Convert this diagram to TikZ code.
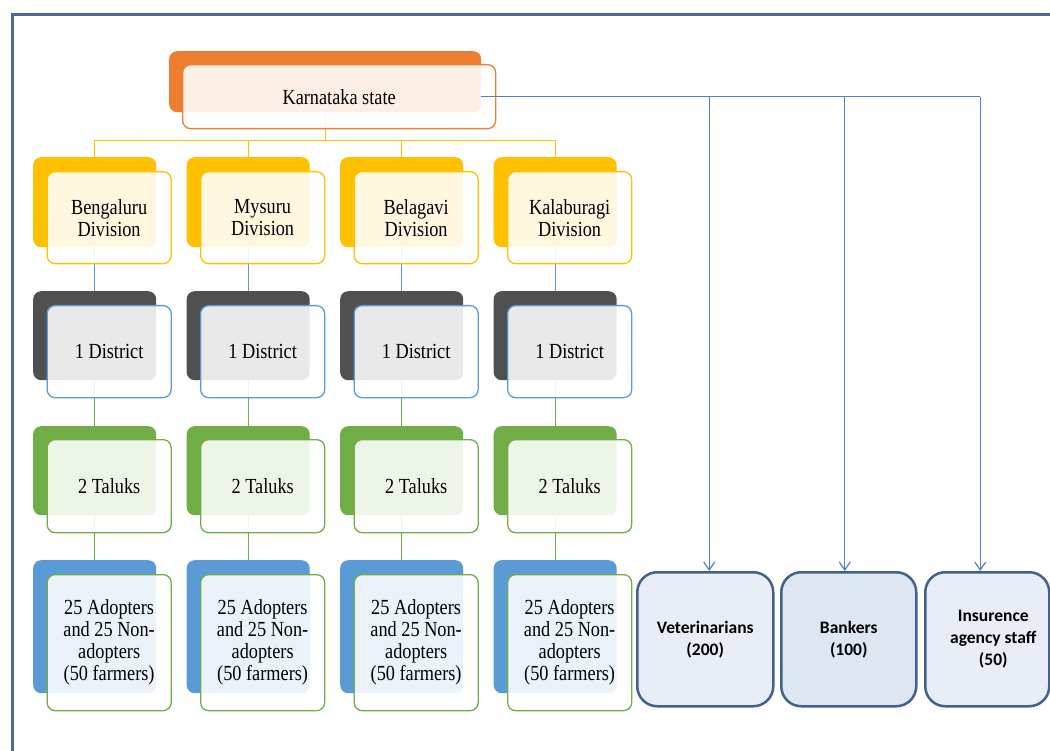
\documentclass[tikz,border=0pt]{standalone}
\usepackage{fontspec}
\setmainfont{Liberation Serif}[FakeStretch=0.85]
\newfontfamily\calib{Carlito}
\usetikzlibrary{arrows.meta,calc}
\definecolor{framec}{HTML}{4A6A8F}
\definecolor{orangec}{HTML}{ED7D31}
\definecolor{yellowc}{HTML}{FFC000}
\definecolor{grayc}{HTML}{505050}
\definecolor{greenc}{HTML}{70AD47}
\definecolor{bluec}{HTML}{5B9BD5}
\definecolor{linkc}{HTML}{4F81BD}
\definecolor{rbord}{HTML}{41628C}
\definecolor{rfill}{HTML}{E9EEF6}
\definecolor{rfillb}{HTML}{DEE6F1}
\tikzset{
  backbox/.style={rectangle, rounded corners=8pt, inner sep=0pt, anchor=north west},
  frontbox/.style={rectangle, rounded corners=8pt, fill=white, fill opacity=0.88, text opacity=1,
    line width=1.3pt, align=center, inner sep=0pt, anchor=north west,
    font=\fontsize{21.5}{22}\selectfont},
  rbox/.style={rectangle, rounded corners=20pt, draw=rbord, line width=2.5pt, fill=rfill,
    align=center, inner sep=0pt, anchor=north west, minimum height=134pt,
    font=\calib\bfseries\fontsize{17.5}{22}\selectfont},
  conn/.style={line width=1.2pt},
  blink/.style={draw=linkc, line width=1.2pt},
  barrow/.style={blink, -{Straight Barb[length=8pt,width=11pt,line width=1.2pt]}}
}
\begin{document}
\begin{tikzpicture}[x=1pt,y=-1pt]
\useasboundingbox (0,0) rectangle (1050,751);
\clip (0,0) rectangle (1050,751);
\fill[white] (0,0) rectangle (1050,751);
\draw[framec, line width=3pt] (12.5,14.5) rectangle (1080,780);

% back boxes
\node[backbox, fill=orangec, minimum width=312pt, minimum height=61pt] (kb) at (169,51) {};
\foreach \i in {0,1,2,3}{
  \pgfmathsetmacro\xx{33+153.5*\i}
  \node[backbox, fill=yellowc, minimum width=123pt, minimum height=90pt] (dvb\i) at (\xx,157) {};
  \node[backbox, fill=grayc, minimum width=123pt, minimum height=89pt] (dsb\i) at (\xx,291) {};
  \node[backbox, fill=greenc, minimum width=123pt, minimum height=89pt] (tlb\i) at (\xx,426) {};
  \node[backbox, fill=bluec, minimum width=123pt, minimum height=133pt] (adb\i) at (\xx,560) {};
}

% connectors
\coordinate (kj) at ($(kb.south)+(0,28)$);
\draw[conn, yellowc] (kb.south) -- (kj);
\foreach \i in {0,1,2,3}{
  \draw[conn, yellowc] (kj) -| (dvb\i.north);
  \draw[conn, bluec] (dvb\i.south) -- (dsb\i.north);
  \draw[conn, greenc] (dsb\i.south) -- (tlb\i.north);
  \draw[conn, greenc] (tlb\i.south) -- (adb\i.north);
}

% front boxes
\node[frontbox, draw=orangec, minimum width=313pt, minimum height=64pt] (kf) at (182,64) {Karnataka state};
\foreach \i/\nm in {0/Bengaluru,1/Mysuru,2/Belagavi,3/Kalaburagi}{
  \pgfmathsetmacro\xx{46.5+153.5*\i}
  \node[frontbox, draw=yellowc, minimum width=124pt, minimum height=92pt] (dv\i) at (\xx,171) {\nm\\Division};
  \node[frontbox, draw=bluec, minimum width=124pt, minimum height=92pt] (ds\i) at (\xx,305) {1 District};
  \node[frontbox, draw=greenc, minimum width=124pt, minimum height=93pt] (tl\i) at (\xx,439) {2 Taluks};
  \node[frontbox, draw=greenc, minimum width=124pt, minimum height=136pt] (ad\i) at (\xx,574) {25 Adopters\\and 25 Non-\\adopters\\(50 farmers)};
}

% right boxes
\node[rbox, minimum width=136pt] (vet) at (636,571) {Veterinarians\\(200)};
\node[rbox, fill=rfillb, minimum width=135pt] (bank) at (780,571) {Bankers\\(100)};
\node[rbox, minimum width=124pt] (ins) at (924,571) {\hspace*{12pt}Insurence\\\hspace*{12pt}agency staff\\\hspace*{12pt}(50)};

% links to the right
\coordinate (ks) at (kb.east |- kf.center);
\coordinate (av) at ($(vet.north)+(4,0)$);
\coordinate (ab) at ($(bank.north)+(-4,0)$);
\coordinate (ai) at ($(ins.north)+(-7,0)$);
\draw[blink] (ks) -- (ai |- ks);
\draw[barrow] (av |- ks) -- (av);
\draw[barrow] (ab |- ks) -- (ab);
\draw[barrow] (ai |- ks) -- (ai);
\end{tikzpicture}
\end{document}
